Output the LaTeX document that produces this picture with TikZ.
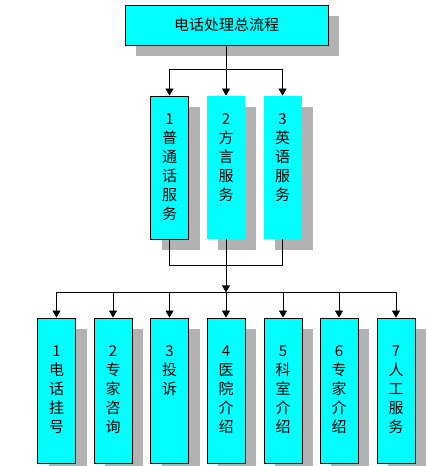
\documentclass[tikz,border=0pt]{standalone}
\usepackage{fontspec}
\newfontfamily\cjk{Noto Sans CJK SC}
\usetikzlibrary{shadows,arrows.meta}
\definecolor{boxcyan}{RGB}{0,255,255}
\definecolor{shadowgray}{RGB}{178,178,178}
\tikzset{
  flowbox/.style={fill=boxcyan,line width=0.8pt,inner sep=0pt,
    drop shadow={shadow xshift=11pt,shadow yshift=-11pt,fill=shadowgray,opacity=1}},
  framed/.style={flowbox,draw},
  colbox/.style={minimum width=38pt},
  coltext/.style={anchor=north,align=center,inner sep=0pt,font=\cjk\fontsize{15}{19}\selectfont},
  link/.style={line width=0.8pt},
  flowarrow/.style={link,-{Triangle[length=7pt,width=8pt]}}
}
\begin{document}
\begin{tikzpicture}[x=1pt,y=1pt]
  \useasboundingbox (0,0) rectangle (426,466);
  % caja superior
  \node[framed,minimum width=203pt,minimum height=40pt,
        font=\cjk\fontsize{15}{19}\selectfont] (top) at (226.5,441) {电话处理总流程};
  % tres servicios
  \node[framed,colbox,minimum height=143pt] (m1) at (169.5,298.5) {};
  \node[flowbox,colbox,minimum height=143pt] (m2) at (226,298.5) {};
  \node[flowbox,colbox,minimum height=143pt] (m3) at (282.5,298.5) {};
  \node[coltext] (m1t) at ([yshift=-18pt]m1.north) {1\\普\\通\\话\\服\\务};
  \node[coltext] (m2t) at ([yshift=-18pt]m2.north) {2\\方\\言\\服\\务};
  \node[coltext] (m3t) at ([yshift=-18pt]m3.north) {3\\英\\语\\服\\务};
  % siete opciones
  \foreach \i/\x/\txt in {1/56.5/{1\\电\\话\\挂\\号},2/113/{2\\专\\家\\咨\\询},
      3/169.5/{3\\投\\诉},4/226/{4\\医\\院\\介\\绍},5/283/{5\\科\\室\\介\\绍},
      6/339/{6\\专\\家\\介\\绍},7/396/{7\\人\\工\\服\\务}} {
    \node[framed,colbox,minimum height=145pt] (b\i) at (\x,75.5) {};
    \node[coltext] (b\i t) at ([yshift=-28pt]b\i.north) {\txt};
  }
  % conexiones
  \coordinate (j1) at ([yshift=-24pt]top.south);
  \draw[link] (top.south) -- (j1);
  \draw[link] (j1 -| m1) -- (j1 -| m3);
  \foreach \n in {m1,m2,m3}
    \draw[flowarrow] (j1 -| \n) -- (\n.north);
  \coordinate (j2) at ([yshift=-26pt]m2.south);
  \draw[link] (m1.south) -- (j2 -| m1) -- (j2 -| m3) -- (m3.south);
  \draw[link] (m2.south) -- (j2);
  \coordinate (j3) at ([yshift=-27pt]j2);
  \draw[flowarrow] (j2) -- (j3);
  \draw[link] (j3 -| b1) -- (j3 -| b7);
  \foreach \i in {1,...,7}
    \draw[flowarrow] (j3 -| b\i) -- (b\i.north);
\end{tikzpicture}
\end{document}
